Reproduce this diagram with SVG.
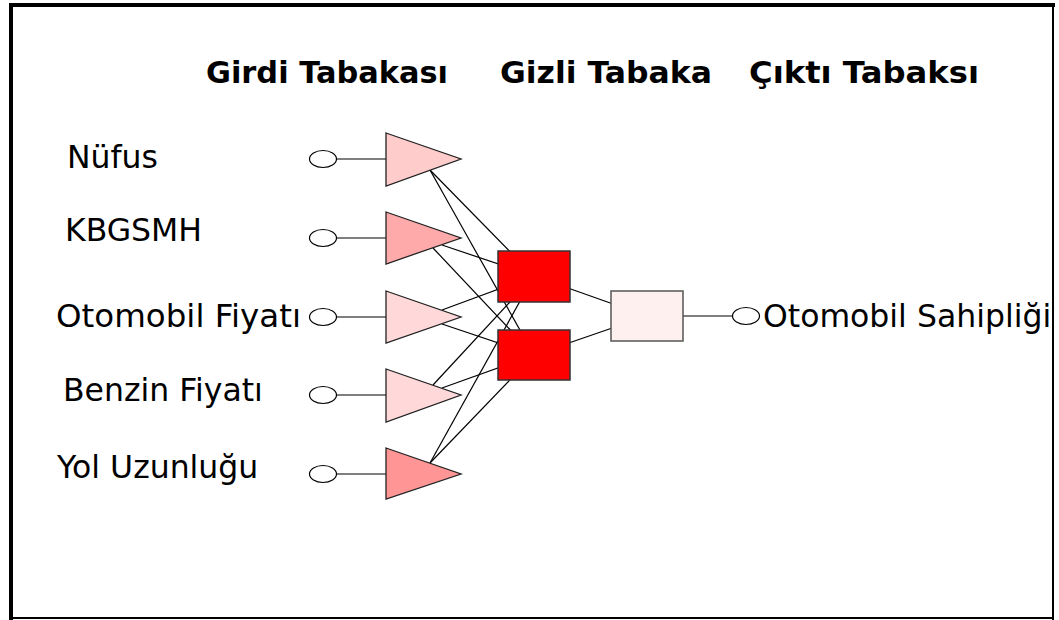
<svg xmlns="http://www.w3.org/2000/svg" width="1059" height="620" viewBox="0 0 1059 620">
  <style>
    .hdr { font-family: "DejaVu Sans", Verdana, sans-serif; font-weight: bold; font-size: 29.5px; fill: #000; }
    .lbl { font-family: "DejaVu Sans", Verdana, sans-serif; font-size: 31.5px; fill: #000; }
    .port { fill: #fff; stroke: #000; stroke-width: 1.2; }
    .wire { stroke: #000; stroke-width: 1.2; fill: none; }
    .tri { stroke: #222; stroke-width: 1.3; }
    .hid { fill: #ff0000; stroke: #333; stroke-width: 1.5; }
    .out { fill: #fff0f0; stroke: #555; stroke-width: 1.5; }
  </style>

  <rect width="1059" height="620" fill="#fff"/>

  <!-- frame -->
  <g id="frame" fill="#000">
    <rect x="9" y="3" width="1046" height="4"/>
    <rect x="9" y="3" width="4" height="617"/>
    <rect x="1052" y="3" width="2" height="617"/>
    <rect x="9" y="617" width="1045" height="2"/>
  </g>

  <!-- layer headings -->
  <g id="headings">
    <text class="hdr" x="206" y="83" textLength="242" lengthAdjust="spacingAndGlyphs">Girdi Tabakası</text>
    <text class="hdr" x="500" y="83" textLength="212" lengthAdjust="spacingAndGlyphs">Gizli Tabaka</text>
    <text class="hdr" x="749" y="83" textLength="230" lengthAdjust="spacingAndGlyphs">Çıktı Tabaksı</text>
  </g>

  <!-- connectors -->
  <g id="connectors" class="wire">
    <!-- inputs to input layer -->
    <line x1="336" y1="159" x2="386" y2="159"/>
    <line x1="336" y1="238" x2="386" y2="238"/>
    <line x1="336" y1="317" x2="386" y2="317"/>
    <line x1="336" y1="395" x2="386" y2="395"/>
    <line x1="336" y1="474" x2="386" y2="474"/>
    <!-- input layer to hidden layer -->
    <line x1="430" y1="170" x2="534" y2="276"/>
    <line x1="430" y1="170" x2="534" y2="355"/>
    <line x1="442" y1="245" x2="534" y2="276"/>
    <line x1="433" y1="248" x2="534" y2="355"/>
    <line x1="442" y1="310" x2="534" y2="276"/>
    <line x1="442" y1="324" x2="534" y2="355"/>
    <line x1="433" y1="385" x2="534" y2="276"/>
    <line x1="442" y1="388" x2="534" y2="355"/>
    <line x1="430" y1="463" x2="534" y2="276"/>
    <line x1="430" y1="463" x2="534" y2="355"/>
    <!-- hidden layer to output -->
    <line x1="534" y1="276" x2="647" y2="316"/>
    <line x1="534" y1="355" x2="647" y2="316"/>
    <line x1="683" y1="316" x2="733" y2="316"/>
  </g>

  <!-- input nodes -->
  <g id="in-nufus">
    <ellipse class="port" cx="323" cy="159" rx="13.5" ry="8.5"/>
    <polygon class="tri" fill="#ffcccc" points="386,133 461,159 386,186"/>
    <text class="lbl" x="67" y="168">Nüfus</text>
  </g>
  <g id="in-kbgsmh">
    <ellipse class="port" cx="323" cy="238" rx="13.5" ry="8.5"/>
    <polygon class="tri" fill="#ffaaaa" points="386,212 461,238 386,264"/>
    <text class="lbl" x="65" y="241">KBGSMH</text>
  </g>
  <g id="in-otomobil-fiyati">
    <ellipse class="port" cx="323" cy="317" rx="13.5" ry="8.5"/>
    <polygon class="tri" fill="#ffd9d9" points="386,291 461,317 386,343"/>
    <text class="lbl" x="56" y="327" textLength="245" lengthAdjust="spacingAndGlyphs">Otomobil Fiyatı</text>
  </g>
  <g id="in-benzin-fiyati">
    <ellipse class="port" cx="323" cy="395" rx="13.5" ry="8.5"/>
    <polygon class="tri" fill="#ffd9d9" points="386,369 461,395 386,422"/>
    <text class="lbl" x="63" y="401">Benzin Fiyatı</text>
  </g>
  <g id="in-yol-uzunlugu">
    <ellipse class="port" cx="323" cy="474" rx="13.5" ry="8.5"/>
    <polygon class="tri" fill="#ff9595" points="386,448 461,474 386,499"/>
    <text class="lbl" x="57" y="478">Yol Uzunluğu</text>
  </g>

  <!-- hidden nodes -->
  <g id="hidden-1">
    <rect class="hid" x="498" y="251" width="72" height="51"/>
  </g>
  <g id="hidden-2">
    <rect class="hid" x="498" y="330" width="72" height="50"/>
  </g>

  <!-- output node -->
  <g id="output">
    <rect class="out" x="611" y="291" width="72" height="50"/>
    <ellipse class="port" cx="746" cy="316" rx="13.5" ry="8.5"/>
    <text class="lbl" x="763" y="327">Otomobil Sahipliği</text>
  </g>
</svg>
